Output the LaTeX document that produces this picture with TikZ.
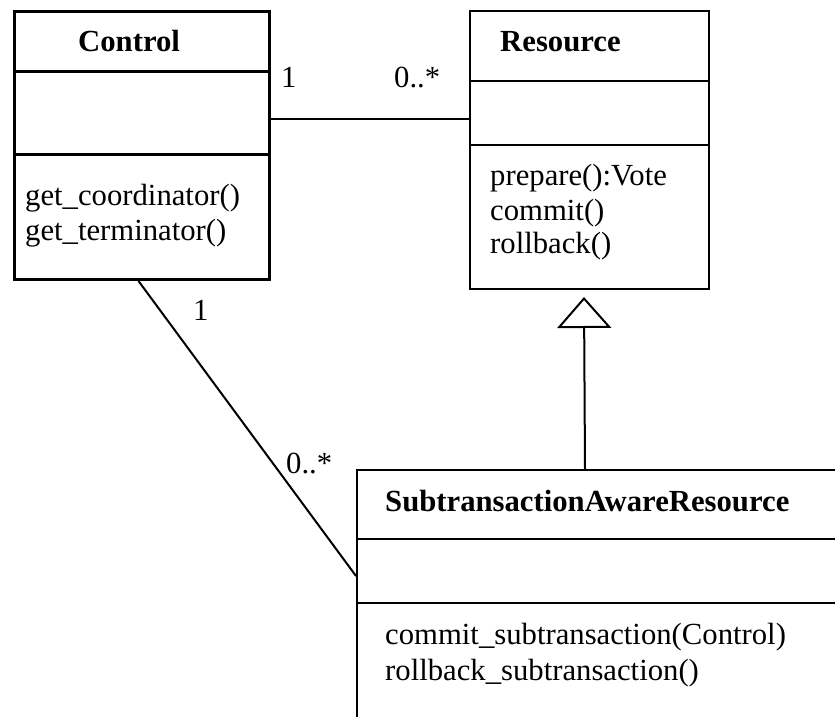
\documentclass[tikz,border=0pt]{standalone}
\usepackage{fontspec}
\setmainfont{Liberation Serif}
\usetikzlibrary{arrows.meta}
\tikzset{
  cls/.style={draw, line width=2pt, inner sep=0pt, anchor=north west},
  txt/.style={inner sep=0pt, anchor=base west, font=\fontsize{30.7}{34}\selectfont},
  ttl/.style={inner sep=0pt, anchor=base west, font=\fontsize{30.7}{34}\selectfont\bfseries},
  conn/.style={line width=2pt},
}
\begin{document}
\begin{tikzpicture}[x=1pt,y=-1pt]
\useasboundingbox (0,0) rectangle (835,717);
\clip (0,0) rectangle (835,717);
% Control
\node[cls, line width=3pt, minimum width=255pt, minimum height=268pt] (ctrl) at (13,10) {};
\draw[line width=3pt] (13,72) -- (268,72);
\draw[line width=3pt] (13,154) -- (268,154);
\node[ttl] (ctrlt) at (78,52) {Control};
\node[txt] (ctrlm1) at (25,205) {get\_coordinator()};
\node[txt] (ctrlm2) at (25,240) {get\_terminator()};
% Resource
\node[cls, minimum width=239pt, minimum height=278pt] (res) at (469,10) {};
\draw[line width=2pt] (469,81) -- (708,81);
\draw[line width=2pt] (469,145) -- (708,145);
\node[ttl] (rest) at (500,52) {Resource};
\node[txt] (resm1) at (490,185) {prepare():Vote};
\node[txt] (resm2) at (490,220) {commit()};
\node[txt] (resm3) at (490,253) {rollback()};
% SubtransactionAwareResource
\node[cls, minimum width=600pt, minimum height=400pt] (sub) at (356,469) {};
\draw[line width=2pt] (356,539) -- (960,539);
\draw[line width=2pt] (356,603) -- (960,603);
\node[ttl] (subt) at (385,511) {SubtransactionAwareResource};
\node[txt] (subm1) at (385,644) {commit\_subtransaction(Control)};
\node[txt] (subm2) at (385,680) {rollback\_subtransaction()};
% associations
\draw[conn] ([yshift=27pt]ctrl.east) -- ([yshift=27pt]ctrl.east -| res.west);
\node[txt] (m1) at (281,87) {1};
\node[txt] (m2) at (394,87) {0..*};
\draw[conn] ([xshift=-3.5pt]ctrl.south) -- ([yshift=94pt]sub.west);
\node[txt] (m3) at (193,320) {1};
\node[txt] (m4) at (286,473) {0..*};
% generalization
\coordinate (genapex) at (584,297);
\draw[conn, -{Triangle[open, length=31pt, width=54pt, line width=2pt]}] ([xshift=-72pt]sub.north) -- (genapex);
\end{tikzpicture}
\end{document}
